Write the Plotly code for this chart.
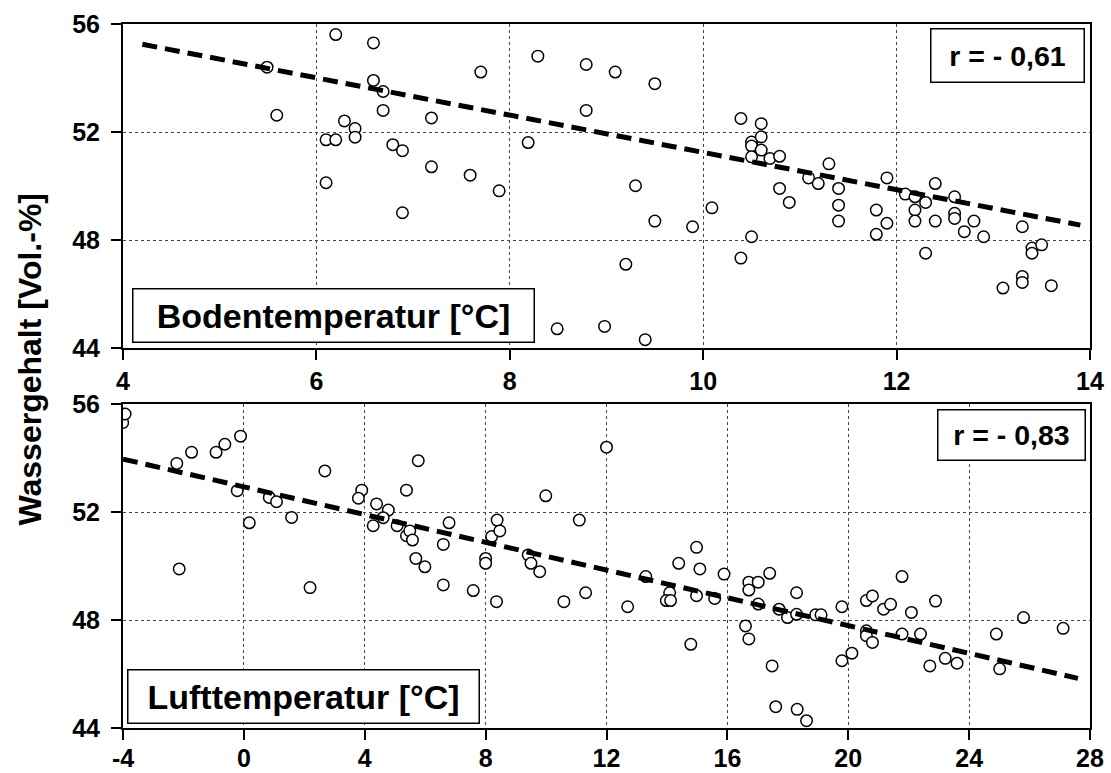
import plotly.graph_objects as go

# ---------------- data ----------------
# Top panel: soil temperature (°C) vs water content (Vol.-%)
boden_x = [5.49, 5.59, 6.20, 6.59, 6.59, 6.69, 6.69, 7.19, 7.70, 6.29,
           6.40, 6.40, 6.10, 6.20, 6.79, 6.89, 7.19, 7.59, 7.89, 6.10,
           6.89, 8.19, 8.29, 8.79, 8.79, 8.49, 8.98, 9.09, 9.50, 9.30,
           9.50, 9.20, 9.40, 9.89, 10.09, 10.39, 10.50, 10.50, 10.50, 10.60,
           10.60, 10.60, 10.69, 10.79, 10.79, 10.89, 10.50, 10.39, 11.09, 11.19,
           11.30, 11.40, 11.40, 11.40, 11.79, 11.79, 11.90, 11.90, 12.09, 12.19,
           12.19, 12.19, 12.30, 12.30, 12.40, 12.40, 12.60, 12.60, 12.60, 12.70,
           12.80, 12.90, 13.30, 13.40, 13.40, 13.50, 13.30, 13.30, 13.10, 13.60]
boden_y = [54.40, 52.62, 55.61, 55.30, 53.91, 53.50, 52.80, 52.52, 54.22, 52.41,
           52.13, 51.81, 51.71, 51.71, 51.53, 51.31, 50.71, 50.40, 49.82, 50.12,
           49.01, 51.61, 54.81, 54.50, 52.80, 44.71, 44.80, 54.22, 53.79, 50.01,
           48.70, 47.10, 44.31, 48.49, 49.19, 52.50, 51.63, 51.48, 51.08, 52.31,
           51.82, 51.33, 51.02, 51.10, 49.91, 49.39, 48.12, 47.33, 50.30, 50.09,
           50.82, 49.91, 49.29, 48.70, 49.11, 48.21, 50.30, 48.62, 49.70, 49.60,
           49.11, 48.70, 49.39, 47.51, 50.09, 48.70, 49.60, 48.99, 48.80, 48.31,
           48.70, 48.12, 48.49, 47.70, 47.51, 47.82, 46.65, 46.43, 46.22, 46.31]
boden_fit_x = [4.2, 13.9]
boden_fit_y = [55.25, 48.55]
boden_label = "Bodentemperatur [°C]"
boden_r = "r = - 0,61"

# Bottom panel: air temperature (°C) vs water content (Vol.-%)
luft_x = [-4.01, -3.93, -2.22, -1.73, -0.92, -0.63, -0.11, -0.22, -2.14, 0.18,
          0.84, 1.08, 1.58, 2.68, 2.19, 3.90, 3.79, 4.39, 4.78, 4.61,
          4.28, 5.07, 5.38, 5.77, 5.38, 5.49, 5.58, 5.69, 5.99, 6.79,
          6.60, 6.60, 7.59, 8.00, 8.00, 8.20, 8.38, 8.47, 8.36, 9.41,
          9.50, 9.79, 9.99, 11.10, 10.59, 11.31, 12.00, 12.70, 13.30, 14.09,
          13.98, 14.12, 14.39, 14.98, 15.09, 14.98, 14.79, 15.58, 15.89, 16.71,
          16.71, 17.02, 17.02, 17.40, 16.60, 16.71, 17.48, 17.71, 17.99, 18.29,
          18.29, 18.92, 19.10, 17.60, 18.31, 18.62, 19.79, 19.79, 20.12, 20.60,
          20.80, 20.60, 20.60, 20.80, 21.17, 21.40, 21.78, 21.78, 22.09, 22.39,
          22.89, 22.70, 23.21, 23.60, 24.90, 25.01, 25.80, 27.11]
luft_y = [55.31, 55.63, 53.80, 54.21, 54.21, 54.51, 54.81, 52.79, 49.89, 51.60,
          52.54, 52.38, 51.80, 53.52, 49.20, 52.81, 52.51, 52.30, 52.07, 51.79,
          51.49, 51.49, 52.81, 53.90, 51.12, 51.30, 50.96, 50.28, 49.97, 51.60,
          50.80, 49.30, 49.09, 50.28, 50.10, 51.09, 51.70, 51.30, 48.68, 50.41,
          50.10, 49.79, 52.60, 51.70, 48.68, 49.01, 54.40, 48.49, 49.61, 49.01,
          48.72, 48.72, 50.10, 50.69, 49.89, 48.90, 47.10, 48.80, 49.70, 49.40,
          49.11, 49.40, 48.59, 49.73, 47.78, 47.30, 46.30, 48.40, 48.09, 49.01,
          48.21, 48.19, 48.19, 44.79, 44.69, 44.27, 48.49, 46.49, 46.77, 48.72,
          48.89, 47.60, 47.42, 47.17, 48.40, 48.58, 49.61, 47.48, 48.28, 47.48,
          48.70, 46.30, 46.58, 46.40, 47.48, 46.19, 48.09, 47.69]
luft_fit_x = [-4.0, 27.6]
luft_fit_y = [53.96, 45.84]
luft_label = "Lufttemperatur [°C]"
luft_r = "r = - 0,83"

y_title = "Wassergehalt [Vol.-%]"
y_ticks = [44, 48, 52, 56]
boden_ticks = [4, 6, 8, 10, 12, 14]
luft_ticks = [-4, 0, 4, 8, 12, 16, 20, 24, 28]

# ---------------- figure ----------------
FONT = "Liberation Sans, Arial, sans-serif"
W, H = 1111, 773
ML, MR, MT, MB = 123, 21, 24, 45
plot_h = H - MT - MB
panel_h = 324
lower_dom = [0, panel_h / plot_h]
upper_dom = [1 - panel_h / plot_h, 1]

marker = dict(symbol="circle", size=11.5, color="white",
              line=dict(color="black", width=1.5))
fitline = dict(color="black", width=5, dash="15px,8px")

fig = go.Figure()
fig.add_trace(go.Scatter(x=boden_x, y=boden_y, mode="markers", marker=marker,
                         xaxis="x", yaxis="y", showlegend=False))
fig.add_trace(go.Scatter(x=boden_fit_x, y=boden_fit_y, mode="lines", line=fitline,
                         xaxis="x", yaxis="y", showlegend=False))
fig.add_trace(go.Scatter(x=luft_x, y=luft_y, mode="markers", marker=marker,
                         xaxis="x2", yaxis="y2", showlegend=False))
fig.add_trace(go.Scatter(x=luft_fit_x, y=luft_fit_y, mode="lines", line=fitline,
                         xaxis="x2", yaxis="y2", showlegend=False))

tickfont = dict(family=FONT, size=25, color="black", weight="bold")
common_ax = dict(showline=True, linecolor="black", linewidth=2, mirror=True,
                 ticks="outside", ticklen=10, tickwidth=2, tickcolor="black",
                 showgrid=True, gridcolor="#444444", gridwidth=1, griddash="dot",
                 zeroline=False, tickfont=tickfont, automargin=False)

fig.update_layout(
    width=W, height=H,
    margin=dict(l=ML, r=MR, t=MT, b=MB, pad=0, autoexpand=False),
    paper_bgcolor="white", plot_bgcolor="white",
    xaxis=dict(domain=[0, 1], anchor="y", range=[4, 14], tickvals=boden_ticks,
               ticktext=[str(v) for v in boden_ticks], **common_ax),
    yaxis=dict(domain=upper_dom, anchor="x", range=[44, 56], tickvals=y_ticks,
               ticktext=[str(v) for v in y_ticks], ticklabelstandoff=6, **common_ax),
    xaxis2=dict(domain=[0, 1], anchor="y2", range=[-4, 28], tickvals=luft_ticks,
                ticktext=[str(v) for v in luft_ticks], ticklabelstandoff=-3,
                **common_ax),
    yaxis2=dict(domain=lower_dom, anchor="x2", range=[44, 56], tickvals=y_ticks,
                ticktext=[str(v) for v in y_ticks], ticklabelstandoff=6, **common_ax),
)

box_font = dict(family=FONT, size=34, color="black", weight="bold")
r_font = dict(family=FONT, size=28.5, color="black", weight="bold")
ann = []
ann.append(dict(text=boden_label, xref="x domain", yref="y domain",
                x=0.009, y=0.0145, xanchor="left", yanchor="bottom",
                width=398, height=50, borderpad=1, borderwidth=1.5,
                bordercolor="black", bgcolor="white", showarrow=False, font=box_font))
ann.append(dict(text=boden_r, xref="x domain", yref="y domain",
                x=0.9948, y=0.9867, xanchor="right", yanchor="top",
                width=150, height=50, borderpad=1, borderwidth=1.5,
                bordercolor="black", bgcolor="white", showarrow=False, font=r_font))
ann.append(dict(text=luft_label, xref="x2 domain", yref="y2 domain",
                x=0.0045, y=0.0125, xanchor="left", yanchor="bottom",
                width=348, height=50, borderpad=1, borderwidth=1.5,
                bordercolor="black", bgcolor="white", showarrow=False, font=box_font))
ann.append(dict(text=luft_r, xref="x2 domain", yref="y2 domain",
                x=0.9955, y=0.985, xanchor="right", yanchor="top",
                width=144, height=47, borderpad=1, borderwidth=1.5,
                bordercolor="black", bgcolor="white", showarrow=False, font=r_font))
ann.append(dict(text=y_title, xref="paper", yref="paper",
                x=(29 - ML) / (W - ML - MR), y=(H - MB - 359.5) / plot_h,
                xanchor="center", yanchor="middle", textangle=-90, showarrow=False,
                font=dict(family=FONT, size=32, color="black", weight="bold")))
fig.update_layout(annotations=ann)

fig.write_html("out.html")
